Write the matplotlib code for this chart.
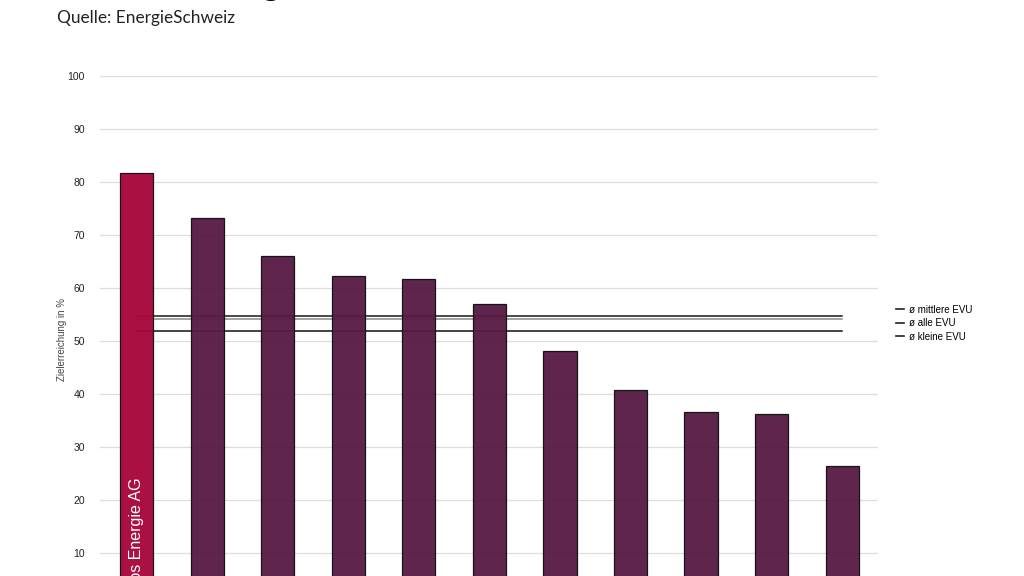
import numpy as np
import matplotlib.pyplot as plt
from matplotlib.lines import Line2D

# values (Zielerreichung in %)
versorger = ["Davos Energie AG", "EVU 2", "EVU 3", "EVU 4", "EVU 5", "EVU 6",
             "EVU 7", "EVU 8", "EVU 9", "EVU 10", "EVU 11"]
zielerreichung = [81.7, 73.2, 66.0, 62.3, 61.7, 57.0, 48.1, 40.8, 36.6, 36.2, 26.4]
durchschnitt_namen = ["ø mittlere EVU", "ø alle EVU", "ø kleine EVU"]
durchschnitt_werte = [54.7, 54.2, 51.9]
yticks = [10, 20, 30, 40, 50, 60, 70, 80, 90, 100]

ROT = "#A8063A"
LILA = "#581C45"

fig = plt.figure(figsize=(10.24, 5.76), dpi=100)
ax = fig.add_axes([0.0977, -0.0521, 0.7598, 0.920])

x = np.arange(len(versorger))
farben = [ROT] + [LILA] * (len(versorger) - 1)
ax.bar(x, zielerreichung, width=0.47, color=farben, edgecolor="#111111",
       linewidth=0.9, zorder=3, alpha=0.96)

# average lines, drawn behind the bars
linienfarben = ["#1a1a1a", "#8a8a8a", "#111111"]
for wert, c in zip(durchschnitt_werte, linienfarben):
    ax.plot([x[0], x[-1]], [wert, wert], color=c, lw=1.1, zorder=2)

# name inside the highlighted bar
ax.text(x[0], 24.3, versorger[0], rotation=90, ha="center", va="top",
        color="white", fontsize=11.5, family="Liberation Sans", zorder=4)

ax.set_xlim(-0.52, len(versorger) - 0.49)
ax.set_ylim(0, 100)
ax.set_yticks(yticks)
ax.set_xticks([])
ax.tick_params(axis="y", length=0, pad=11, labelsize=7.5, labelcolor="#222222")
for lab in ax.get_yticklabels():
    lab.set_family("Liberation Sans")
ax.grid(axis="y", color="#dddddd", lw=0.9, zorder=0)
for s in ax.spines.values():
    s.set_visible(False)

fig.text(0.0605, 0.41, "Zielerreichung in %", rotation=90, ha="center", va="center",
         fontsize=7, color="#444444", family="Liberation Sans")

handles = [Line2D([0], [0], color="#222222", lw=1.2) for _ in durchschnitt_namen]
fig.legend(handles, durchschnitt_namen, loc="center left", bbox_to_anchor=(0.866, 0.439),
           frameon=False, handlelength=0.9, handletextpad=0.5, labelspacing=0.35,
           prop={"family": "Liberation Sans", "size": 7})

# title, almost entirely above the visible area (only a descender peeks in)
fig.text(0.056, 1.009, "Zielerreichung der Schweizer EVU", fontsize=25.5, ha="left",
         va="baseline", family="Lato")
fig.text(0.056, 0.969, "Quelle: EnergieSchweiz", fontsize=12.4, ha="left",
         va="center", family="Lato", color="#222222")

fig.savefig("out.png", dpi=100)
